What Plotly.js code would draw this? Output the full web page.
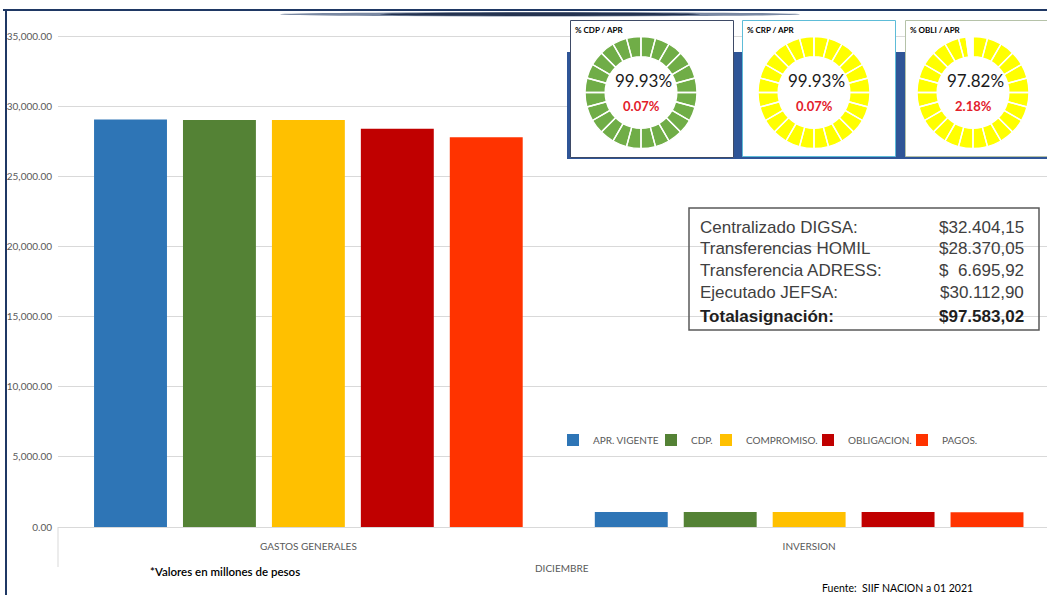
<!DOCTYPE html>
<html><head><meta charset="utf-8">
<script src="https://cdn.plot.ly/plotly-3.0.1.min.js"></script>
<style>html,body{margin:0;padding:0;background:#fff;overflow:hidden;} #chart{width:1047px;height:595px;}</style>
</head><body><div id="chart"></div>
<script>
// ---------- DATA ----------
const categories = ['GASTOS GENERALES', 'INVERSION'];
const seriesNames = ['APR. VIGENTE', 'CDP.', 'COMPROMISO.', 'OBLIGACION.', 'PAGOS.'];
const aprVigente = [29040, 1073];
const cdp = [29020, 1073];
const compromiso = [29020, 1073];
const obligacion = [28390, 1066];
const pagos = [27790, 1060];
const seriesColors = ['#2E75B6', '#548235', '#FFC000', '#C00000', '#FF3300'];
const outerLabel = 'DICIEMBRE';

const gaugeTitles = ['% CDP / APR', '% CRP / APR', '% OBLI / APR'];
const gaugeMain = [99.93, 99.93, 97.82];
const gaugeRest = [0.07, 0.07, 2.18];
const gaugeColors = ['#70AD47', '#FFFF00', '#FFFF00'];
const ringSegments = [1,1,1,1,1,1,1,1,1,1,1,1,1,1,1,1,1,1,1,1,1,1,1,1];

const boxLabels = ['Centralizado DIGSA:', 'Transferencias HOMIL', 'Transferencia ADRESS:', 'Ejecutado JEFSA:', 'Totalasignación:'];
const boxValues = ['$32.404,15', '$28.370,05', '$  6.695,92', '$30.112,90', '$97.583,02'];

const footNote = '*Valores en millones de pesos';
const sourceNote = 'Fuente:  SIIF NACION a 01 2021';

// ---------- GEOMETRY ----------
const W = 1047, H = 595, L = 58, R = 0, T = 10, B = 68;
const plotW = W - L - R, plotH = H - T - B;
const bottomPx = H - B;
const yTop35k = 36;
const yMax = 35000 * plotH / (bottomPx - yTop35k);
const xRange = [-0.5, 1.475];
const px = p => (p - L) / plotW;              // paper x
const py = p => (bottomPx - p) / plotH;       // paper y
const dx = p => xRange[0] + (p - L) / plotW * (xRange[1] - xRange[0]); // data x
const dy = p => (bottomPx - p) / plotH * yMax; // data y

const calibri = 'Lato, "Open Sans", sans-serif';
const arial = '"Liberation Sans", Arial, sans-serif';

// ---------- TRACES ----------
const seriesValues = [aprVigente, cdp, compromiso, obligacion, pagos];
const legendIds = ['legend', 'legend2', 'legend3', 'legend4', 'legend5'];
const legendTextPx = [587, 685, 740, 842, 936];
const traces = seriesNames.map((n, i) => ({
  type: 'bar', name: n, x: categories, y: seriesValues[i],
  marker: {color: seriesColors[i], line: {width: 0}},
  hoverinfo: 'none', legend: legendIds[i]
}));

const gaugeCentersPx = [641, 814, 973];
const gaugeCy = 92.5, gaugeR = 56;
gaugeCentersPx.forEach((cx, i) => {
  const dom = {x: [px(cx - gaugeR), px(cx + gaugeR)], y: [py(gaugeCy + gaugeR), py(gaugeCy - gaugeR)]};
  traces.push({
    type: 'pie', values: [gaugeMain[i], gaugeRest[i]], hole: 0.64, sort: false,
    direction: 'clockwise', rotation: 0, textinfo: 'none', hoverinfo: 'none',
    marker: {colors: [gaugeColors[i], '#FFFFFF'], line: {width: 0}},
    domain: dom, showlegend: false
  });
  traces.push({
    type: 'pie', values: ringSegments, hole: 0.64, sort: false,
    direction: 'clockwise', rotation: 0, textinfo: 'none', hoverinfo: 'none',
    marker: {colors: ringSegments.map(() => 'rgba(0,0,0,0)'), line: {color: '#FFFFFF', width: 1.4}},
    domain: dom, showlegend: false
  });
});

// ---------- SHAPES ----------
const shapes = [
  {type: 'rect', xref: 'x', yref: 'y', layer: 'between', x0: dx(567), x1: dx(1047), y0: dy(52), y1: dy(159),
   fillcolor: '#2F5597', line: {width: 0}},
  {type: 'rect', xref: 'x', yref: 'y', layer: 'between', x0: dx(570.5), x1: dx(733.5), y0: dy(20.5), y1: dy(157.5),
   fillcolor: '#FFFFFF', line: {color: '#3E4A66', width: 1}},
  {type: 'rect', xref: 'x', yref: 'y', layer: 'between', x0: dx(742.5), x1: dx(895.5), y0: dy(20.5), y1: dy(156.5),
   fillcolor: '#FFFFFF', line: {color: '#5DBCD8', width: 1}},
  {type: 'rect', xref: 'x', yref: 'y', layer: 'between', x0: dx(905.5), x1: dx(1050), y0: dy(20.5), y1: dy(156.5),
   fillcolor: '#FFFFFF', line: {color: '#B5C2A8', width: 1}},
  {type: 'line', xref: 'paper', yref: 'paper', layer: 'above', x0: px(3), x1: px(1047), y0: py(10), y1: py(10),
   line: {color: '#1F3864', width: 2}},
  {type: 'line', xref: 'paper', yref: 'paper', layer: 'above', x0: px(6), x1: px(6), y0: py(10), y1: py(600),
   line: {color: '#1F3864', width: 2}},
  {type: 'circle', xref: 'paper', yref: 'paper', layer: 'above', x0: px(280), x1: px(800), y0: py(12), y1: py(16.5),
   fillcolor: '#1F3864', opacity: 0.6, line: {width: 0}},
  {type: 'circle', xref: 'paper', yref: 'paper', layer: 'above', x0: px(380), x1: px(700), y0: py(12.5), y1: py(16),
   fillcolor: '#0F1E3C', opacity: 0.8, line: {width: 0}},
  {type: 'line', xref: 'paper', yref: 'paper', layer: 'above', x0: px(58), x1: px(58), y0: py(527), y1: py(567),
   line: {color: '#D9D9D9', width: 1}},
  {type: 'rect', xref: 'paper', yref: 'paper', layer: 'above', x0: px(689), x1: px(1039), y0: py(208), y1: py(330),
   line: {color: '#595959', width: 1.5}, fillcolor: 'rgba(0,0,0,0)'}
];

// ---------- ANNOTATIONS ----------
const ann = [];
const A = (x, y, text, font, xanchor = 'center', yanchor = 'middle') =>
  ann.push({xref: 'paper', yref: 'paper', x: px(x), y: py(y), text, showarrow: false,
            xanchor, yanchor, font});

A(562, 568, outerLabel, {family: calibri, size: 10, color: '#595959'});
A(148, 571, footNote, {family: calibri, size: 11.5, color: '#000000', weight: 600}, 'left');
A(820, 588, sourceNote, {family: calibri, size: 10.5, color: '#000000'}, 'left');

gaugeCentersPx.forEach((cx, i) => {
  const left = [573, 745, 908][i];
  A(left, 30, gaugeTitles[i], {family: calibri, size: 8, color: '#000000', weight: 700}, 'left');
  A(cx + 2, 81, gaugeMain[i].toFixed(2) + '%', {family: calibri, size: 17, color: '#1A1A1A'});
  A(cx, 106, gaugeRest[i].toFixed(2) + '%', {family: calibri, size: 13, color: '#E3202B', weight: 700});
});

const boxRows = [227, 248.5, 270, 292, 316];
boxLabels.forEach((t, i) => {
  const bold = i === boxLabels.length - 1;
  const f = {family: arial, size: 17, color: bold ? '#1F1F1F' : '#404040', weight: bold ? 700 : 400};
  A(698, boxRows[i], t, f, 'left');
  A(1026, boxRows[i], boxValues[i].replace(/ /g, '&nbsp;'), f, 'right');
});

// ---------- LAYOUT ----------
const layout = {
  width: W, height: H,
  margin: {l: L, r: R, t: T, b: B, pad: 0},
  paper_bgcolor: '#FFFFFF', plot_bgcolor: 'rgba(0,0,0,0)',
  barmode: 'group', bargap: 0.112, bargroupgap: 0.18,
  hovermode: false,
  xaxis: {
    type: 'category', range: xRange, showgrid: false, zeroline: false,
    showline: true, linecolor: '#D9D9D9', linewidth: 1, ticks: '',
    tickfont: {family: calibri, size: 10, color: '#595959'}, ticklabelstandoff: 10,
    fixedrange: true
  },
  yaxis: {
    range: [0, yMax], tickmode: 'linear', tick0: 0, dtick: 5000, tickformat: ',.2f',
    showgrid: true, gridcolor: '#D9D9D9', gridwidth: 1, zeroline: false, showline: false,
    tickfont: {family: calibri, size: 10, color: '#595959'}, ticklabelstandoff: 5,
    fixedrange: true
  },
  showlegend: true,
  shapes, annotations: ann
};
legendIds.forEach((id, i) => {
  layout[id] = {
    orientation: 'h', x: px(legendTextPx[i] - 34), y: py(440), xanchor: 'left', yanchor: 'middle',
    font: {family: calibri, size: 10, color: '#595959'}, itemwidth: 30,
    bgcolor: 'rgba(0,0,0,0)'
  };
});

Plotly.newPlot('chart', traces, layout, {displayModeBar: false, staticPlot: true});
</script></body></html>
